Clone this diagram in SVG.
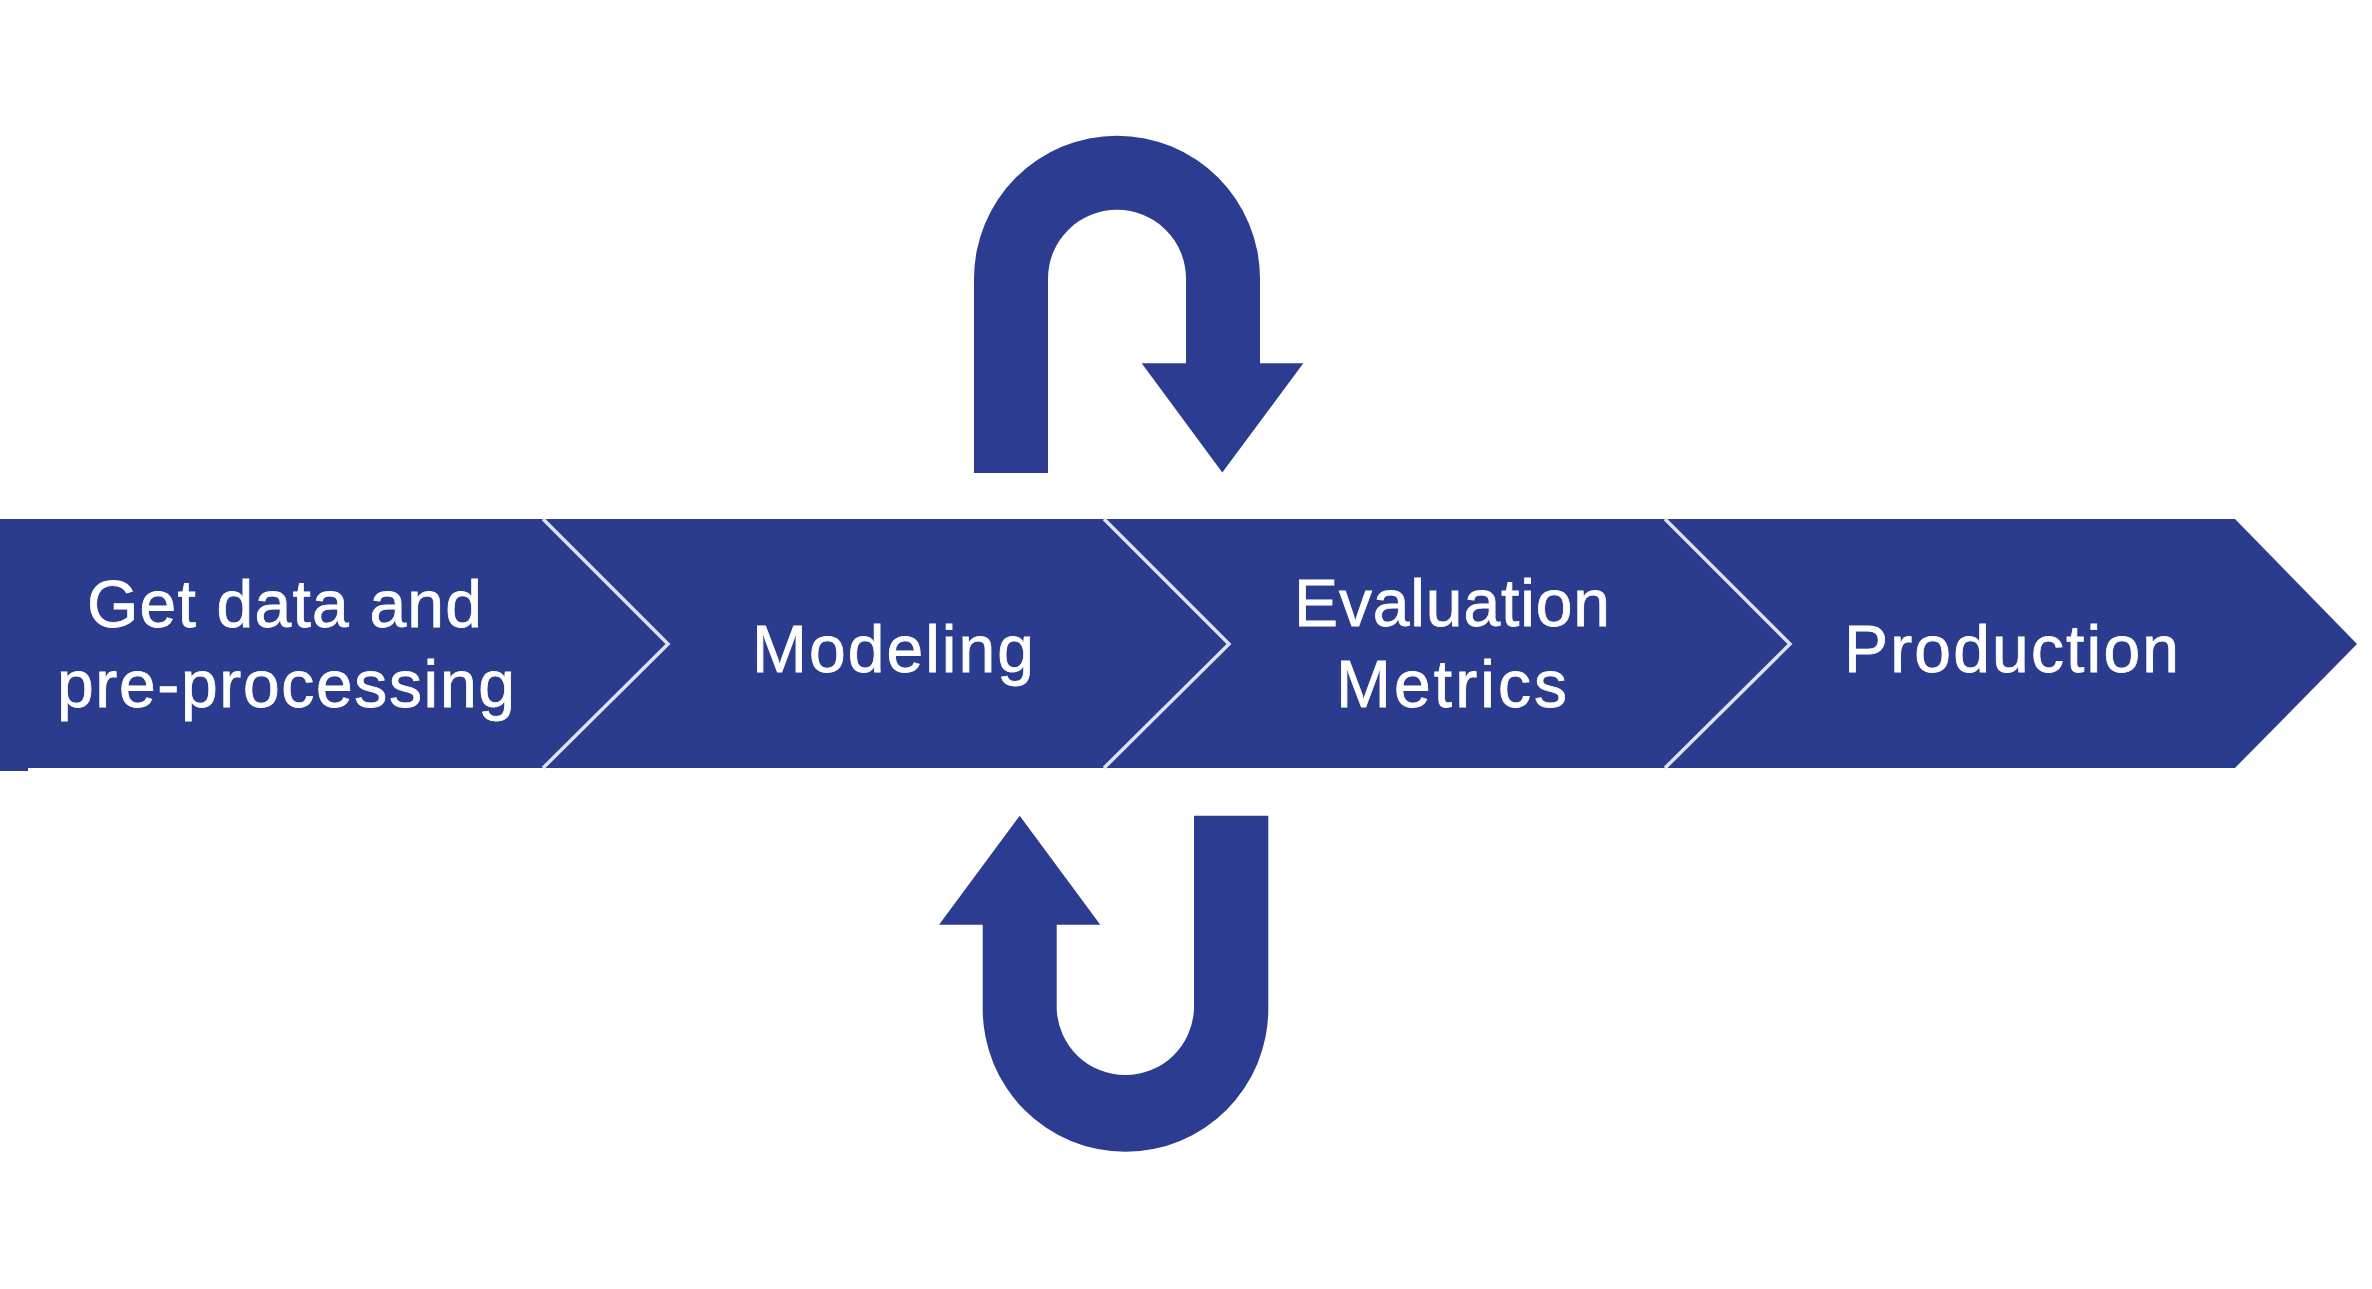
<svg xmlns="http://www.w3.org/2000/svg" width="2372" height="1289" viewBox="0 0 2372 1289">
<style>
.band{fill:#2b3c8f}
.div{fill:none;stroke:#dde2ee;stroke-width:3.5;stroke-linejoin:miter}
.lbl{font-family:"Liberation Sans",Arial,Helvetica,sans-serif;font-size:66px;fill:#ffffff;stroke:#ffffff;stroke-width:0.8}
.arr{fill:#2c3d91}
</style>
<rect x="0" y="0" width="2372" height="1289" fill="#ffffff"/>
<g id="banner">
<polygon class="band" points="0,519 2235,519 2357,644 2235,768 0,768"/>
<rect class="band" x="0" y="760" width="28" height="11"/>
<polyline class="div" points="543,519 668,644 543,768"/>
<polyline class="div" points="1104,519 1229,644 1104,768"/>
<polyline class="div" points="1665,519 1790,644 1665,768"/>
</g>
<g id="node-get-data">
<text class="lbl" x="87" y="627" textLength="395" lengthAdjust="spacing">Get data and</text>
<text class="lbl" x="57" y="707" textLength="458" lengthAdjust="spacing">pre-processing</text>
</g>
<g id="node-modeling">
<text class="lbl" x="752" y="672" textLength="282" lengthAdjust="spacing">Modeling</text>
</g>
<g id="node-evaluation">
<text class="lbl" x="1294" y="626" textLength="316" lengthAdjust="spacing">Evaluation</text>
<text class="lbl" x="1336" y="707" textLength="231" lengthAdjust="spacing">Metrics</text>
</g>
<g id="node-production">
<text class="lbl" x="1844" y="672" textLength="335" lengthAdjust="spacing">Production</text>
</g>
<g id="connectors">
<path class="arr" d="M974,473 L974,278.7 A143,143 0 0 1 1260,278.7 L1260,363.3 L1303.3,363.3 L1222.3,472.5 L1141.7,363.3 L1186,363.3 L1186,278.7 A69,69 0 0 0 1048,278.7 L1048,473 Z"/>
<path class="arr" d="M1268.3,815.7 L1268.3,1009 A142.8,142.8 0 0 1 982.7,1009 L982.7,924.7 L939,924.7 L1019.7,815.7 L1100.3,924.7 L1056.7,924.7 L1056.7,1009 A68.7,68.7 0 0 0 1194,1009 L1194,815.7 Z"/>
</g>
</svg>
